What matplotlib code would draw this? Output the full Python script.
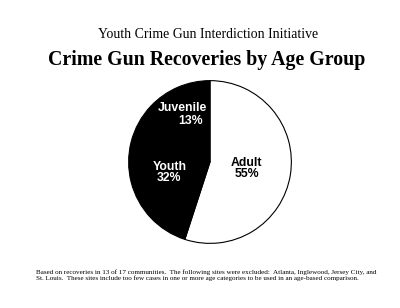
import matplotlib
matplotlib.use("Agg")
import matplotlib.pyplot as plt

categories = ["Adult", "Youth", "Juvenile"]
values = [55, 32, 13]
colors = ["white", "black", "black"]

fig = plt.figure(figsize=(4, 3.08), dpi=100)
fig.patch.set_facecolor("white")

# pie axes: center (210,162) px, radius ~83
W, H = 400, 308
cx, cy, r = 210, 162, 83
ax = fig.add_axes([(cx - r) / W, 1 - (cy + r) / H, 2 * r / W, 2 * r / H])
wedges, _ = ax.pie(values, colors=colors, startangle=90, counterclock=False,
                   wedgeprops=dict(edgecolor="black", linewidth=0.8))
ax.set_aspect("equal")
ax.set_xlim(-1.02, 1.02)
ax.set_ylim(-1.02, 1.02)

lab_font = dict(family="Liberation Sans", fontweight="bold", fontsize=8.8, linespacing=0.95)
ax.text(0.45, -0.08, "Adult\n55%", color="black", ha="center", va="center", **lab_font)
ax.text(-0.50, -0.13, "Youth\n32%", color="white", ha="center", va="center", **lab_font)
ax.text(-0.34, 0.66, "Juvenile", color="white", ha="center", va="center", **lab_font)
ax.text(-0.24, 0.50, "13%", color="white", ha="center", va="center", **lab_font)

fig.text(0.52, 1 - 35 / H, "Youth Crime Gun Interdiction Initiative",
         family="Liberation Serif", fontsize=9.9, ha="center", va="center")
fig.text(0.5175, 1 - 60 / H, "Crime Gun Recoveries by Age Group",
         family="Liberation Serif", fontweight="bold", fontsize=14.3, ha="center", va="center")
fig.text(36 / W, 1 - 275 / H,
         "Based on recoveries in 13 of 17 communities.  The following sites were excluded:  Atlanta, Inglewood, Jersey City, and\n"
         "St. Louis.  These sites include too few cases in one or more age categories to be used in an age-based comparison.",
         family="Liberation Serif", fontsize=5.1, ha="left", va="center", linespacing=1.1)

fig.savefig("out.png", dpi=100, facecolor="white")
